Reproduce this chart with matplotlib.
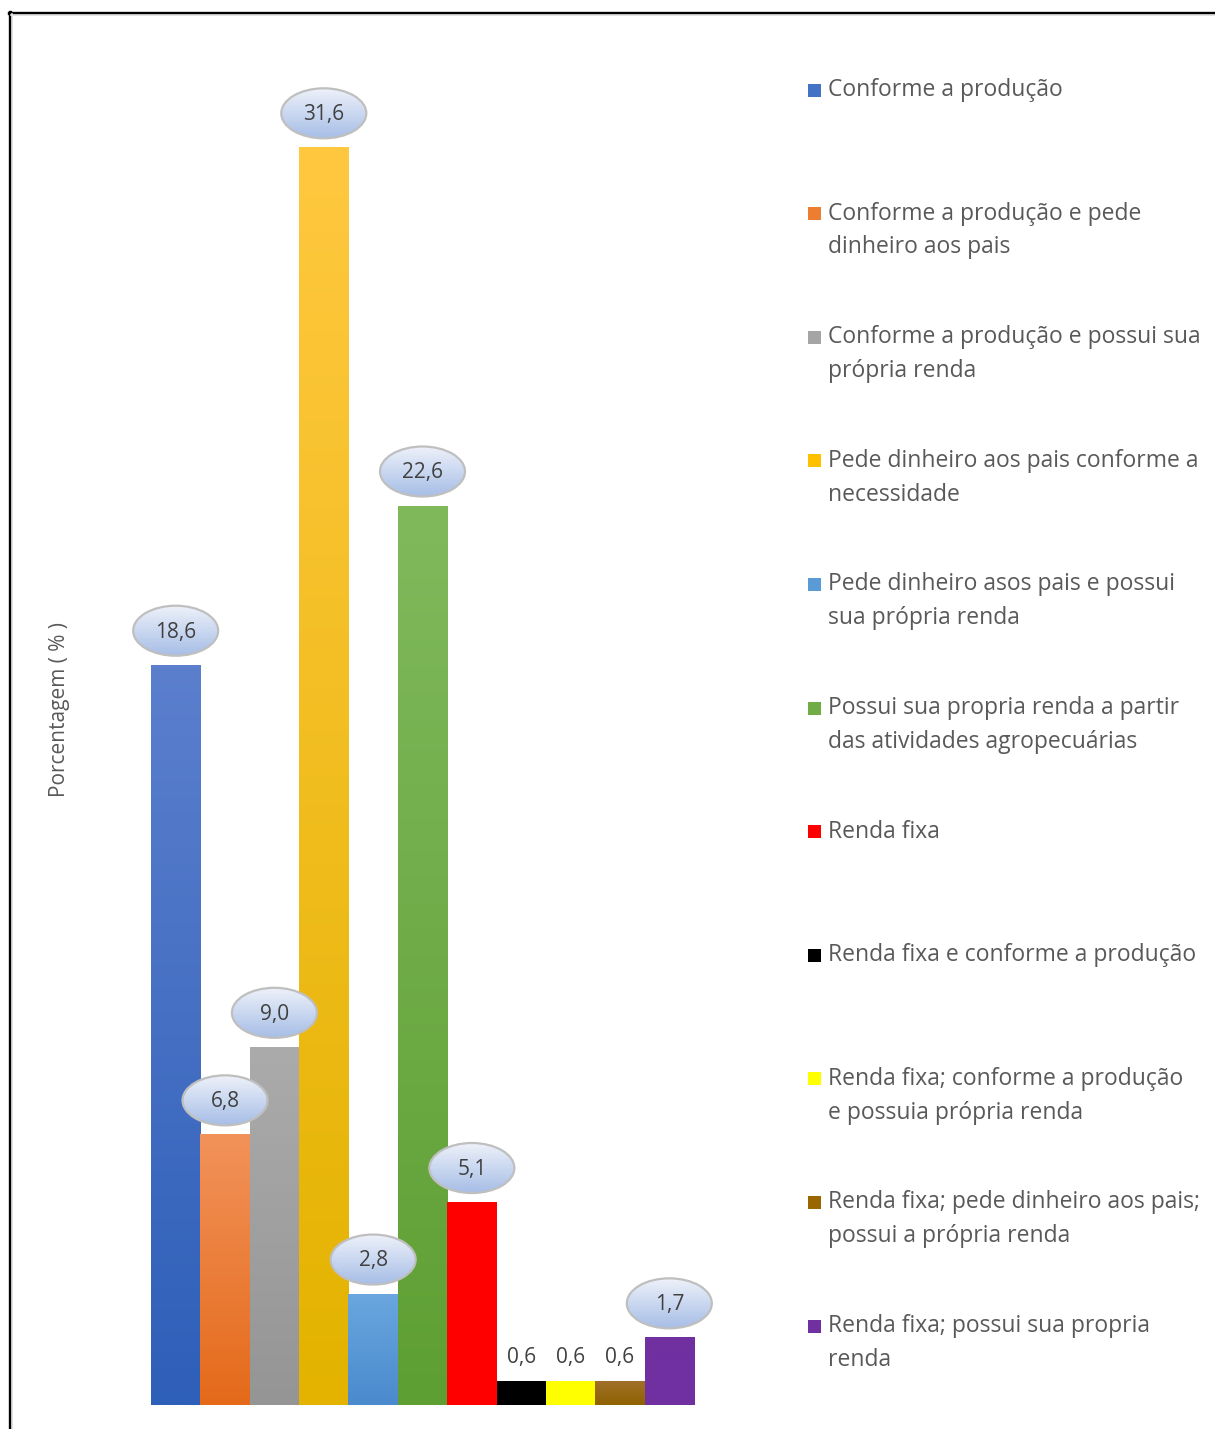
import numpy as np
import matplotlib
matplotlib.use("Agg")
import matplotlib.pyplot as plt
import matplotlib.transforms as mtransforms
from matplotlib.patches import Ellipse, Rectangle
from matplotlib.lines import Line2D
from matplotlib.colors import to_rgb

categories = [
    "Conforme a produção",
    "Conforme a produção e pede\ndinheiro aos pais",
    "Conforme a produção e possui sua\nprópria renda",
    "Pede dinheiro aos pais conforme a\nnecessidade",
    "Pede dinheiro asos pais e possui\nsua própria renda",
    "Possui sua propria renda a partir\ndas atividades agropecuárias",
    "Renda fixa",
    "Renda fixa e conforme a produção",
    "Renda fixa; conforme a produção\ne possuia própria renda",
    "Renda fixa; pede dinheiro aos pais;\npossui a própria renda",
    "Renda fixa; possui sua propria\nrenda",
]
values = [18.6, 6.8, 9.0, 31.6, 2.8, 22.6, 5.1, 0.6, 0.6, 0.6, 1.7]
value_labels = ["18,6", "6,8", "9,0", "31,6", "2,8", "22,6", "5,1", "0,6", "0,6", "0,6", "1,7"]
base_colors = ["#4472c4", "#ed7d31", "#a5a5a5", "#ffc000", "#5b9bd5", "#70ad47",
               "#ff0000", "#000000", "#ffff00", "#996600", "#7030a0"]
top_colors = ["#5b7fcd", "#f2925a", "#ababab", "#ffc83f", "#6aa7e0", "#80b95c",
              "#ff0000", "#000000", "#ffff00", "#a0702a", "#7030a0"]
bottom_colors = ["#2e5fb9", "#e46a1a", "#959595", "#e3b300", "#4a8acd", "#5e9f33",
                 "#ff0000", "#000000", "#ffff00", "#8f6200", "#7030a0"]

W, H = 1215, 1429
fig = plt.figure(figsize=(W / 100, H / 100), dpi=100)
fig.patch.set_facecolor("white")

font = "Open Sans"
txt_color = "#595959"

# axes placement in pixels
left_px, right_px, base_px = 151, 694, 1405
ymax = 33.0
ppu = 39.8
ax = fig.add_axes([left_px / W, (H - base_px) / H, (right_px - left_px) / W, ymax * ppu / H])
ax.set_xlim(-0.5, len(values) - 0.5)
ax.set_ylim(0, ymax)
ax.axis("off")

x = np.arange(len(values))
bars = ax.bar(x, values, width=1.0, color=base_colors, linewidth=0, zorder=2)

# gradient fill for bars
for i, (b, v) in enumerate(zip(bars, values)):
    c1 = np.array(to_rgb(top_colors[i]))
    c2 = np.array(to_rgb(bottom_colors[i]))
    t = np.linspace(0, 1, 100)[:, None]
    grad = (c1[None, :] * (1 - t) + c2[None, :] * t)[:, None, :]
    im = ax.imshow(grad, extent=[i - 0.5, i + 0.5, 0, v], aspect="auto",
                   zorder=3, interpolation="bilinear")
    im.set_clip_path(b)
ax.set_xlim(-0.5, len(values) - 0.5)
ax.set_ylim(0, ymax)

# data labels
e_top = np.array(to_rgb("#edf1f9"))
e_bot = np.array(to_rgb("#a6bde6"))
ew, eh, cy = 0.85, 0.50, 0.34
nstrip = 40
for i, v in enumerate(values):
    if v < 1.0:
        ax.annotate(value_labels[i], (i, v), xytext=(0, 17), textcoords="offset points",
                    ha="center", va="center", fontsize=15, color="#404040",
                    family=font, zorder=6, annotation_clip=False)
        continue
    trans = fig.dpi_scale_trans + mtransforms.ScaledTranslation(i, v, ax.transData)
    ell = Ellipse((0, cy), ew, eh, transform=trans, facecolor="none",
                  edgecolor="#bfbfbf", linewidth=1.6, zorder=5.6, clip_on=False)
    clipell = Ellipse((0, cy), ew, eh, transform=trans, facecolor="none",
                      edgecolor="none", clip_on=False)
    ax.add_patch(clipell)
    for k in range(nstrip):
        f = (k + 0.5) / nstrip
        col = e_top * (1 - f) + e_bot * f
        y0 = cy + eh / 2 - (k + 1) * eh / nstrip
        r = Rectangle((-ew / 2, y0), ew, eh / nstrip * 1.05, transform=trans,
                      facecolor=col, edgecolor="none", zorder=5.5, clip_on=True)
        r.set_clip_path(clipell)
        ax.add_patch(r)
    ax.add_patch(ell)
    ax.annotate(value_labels[i], (i, v), xytext=(0, cy * 72 - 1), textcoords="offset points",
                ha="center", va="center", fontsize=15, color="#404040",
                family=font, zorder=6, annotation_clip=False)

# y label
fig.text(60 / W, 1 - 710 / H, "Porcentagem ( % )", rotation=90, ha="center", va="center",
         fontsize=15, color=txt_color, family=font)

# legend
leg_y0 = 90
leg_step = 123.6
for i, cat in enumerate(categories):
    yc = leg_y0 + i * leg_step
    fig.patches.append(Rectangle((808 / W, 1 - (yc + 6.5) / H), 13 / W, 13 / H,
                                 transform=fig.transFigure, facecolor=base_colors[i],
                                 edgecolor="none"))
    fig.text(828 / W, 1 - (yc - 12) / H, cat, ha="left", va="top", fontsize=16.5,
             color=txt_color, family=font, linespacing=1.54)

# frame
fig.add_artist(Line2D([9.5 / W, 9.5 / W], [0, 1 - 12 / H], transform=fig.transFigure,
                      color="black", linewidth=2.4))
fig.add_artist(Line2D([8.5 / W, 1], [1 - 12.5 / H, 1 - 12.5 / H], transform=fig.transFigure,
                      color="black", linewidth=2.4))
fig.add_artist(Line2D([12 / W, 12 / W], [0, 1 - 14 / H], transform=fig.transFigure,
                      color="#e6e6e6", linewidth=1.2))
fig.add_artist(Line2D([11 / W, 1], [1 - 15 / H, 1 - 15 / H], transform=fig.transFigure,
                      color="#e6e6e6", linewidth=1.2))

fig.savefig("out.png", dpi=100, facecolor="white")
